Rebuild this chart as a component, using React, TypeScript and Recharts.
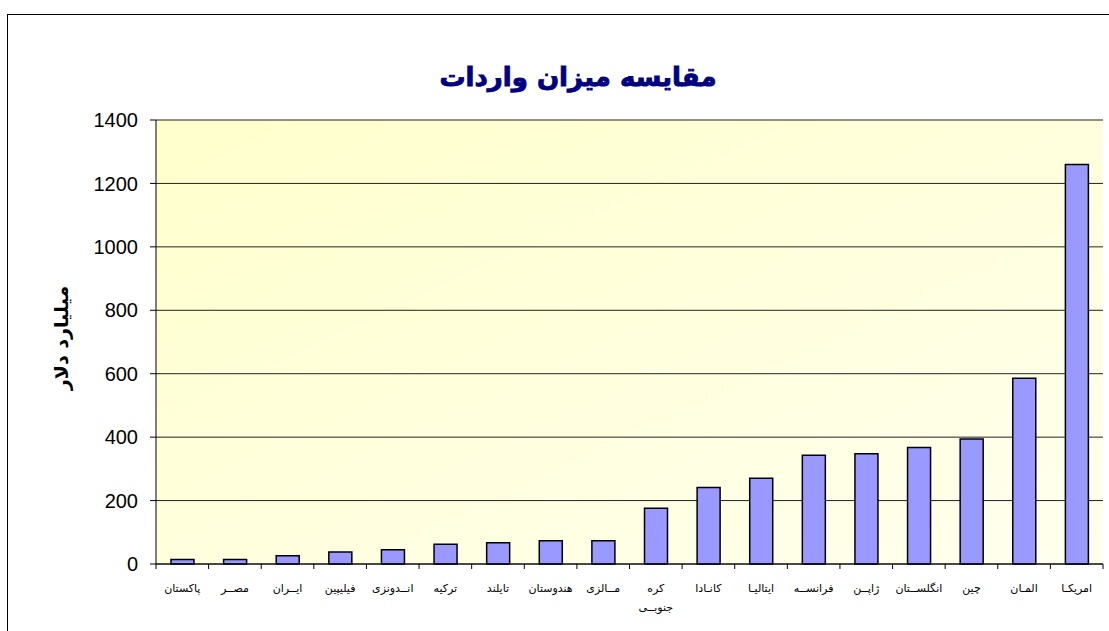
import { BarChart, Bar, XAxis, YAxis, CartesianGrid } from 'recharts'

const countries = [
  'پاکستان',
  'مصــر',
  'ایــران',
  'فیلیپین',
  'انــدونزی',
  'ترکیه',
  'تایلند',
  'هندوستان',
  'مــالزی',
  'کره\nجنوبــی',
  'کانـادا',
  'ایتالیـا',
  'فرانســه',
  'ژاپــن',
  'انگلســتان',
  'چین',
  'المـان',
  'امریکـا',
]
const imports = [14, 14, 26, 38, 45, 62, 67, 73, 73, 176, 241, 270, 343, 348, 367, 394, 586, 1260]
const yTicks = [0, 200, 400, 600, 800, 1000, 1200, 1400]

const title = 'مقایسه میزان واردات'
const yTitle = 'میلیارد دلار'

const data = countries.map((c, i) => ({ name: c, value: imports[i] }))

const W = 1109
const H = 631
const plotLeft = 156
const plotRight = 1103
const band = (plotRight - plotLeft) / countries.length

function CountryTick(props: any) {
  const { x, y, payload, index } = props
  const lines = String(payload.value).split('\n')
  return (
    <g>
      <line x1={x - band / 2} x2={x - band / 2} y1={y} y2={y + 5} stroke="#000" />
      {index === countries.length - 1 && (
        <line x1={x + band / 2} x2={x + band / 2} y1={y} y2={y + 5} stroke="#000" />
      )}
      {lines.map((l, i) => (
        <text
          key={i}
          x={x}
          y={y + 28 + i * 19}
          textAnchor="middle"
          fontSize={11}
          fontFamily="DejaVu Sans"
          fill="#000"
        >
          {l}
        </text>
      ))}
    </g>
  )
}

function YTitle() {
  return (
    <text
      x={62}
      y={338}
      transform="rotate(-90, 62, 338)"
      textAnchor="middle"
      dominantBaseline="middle"
      fontSize={19}
      fontWeight="bold"
      fontFamily="DejaVu Sans"
      fill="#000"
    >
      {yTitle}
    </text>
  )
}

export default function App() {
  return (
    <div style={{ position: 'absolute', left: 0, top: 0, width: W, height: H, overflow: 'hidden', background: '#fff' }}>
      <div
        style={{
          position: 'absolute',
          left: 7,
          top: 14,
          width: 1300,
          height: 800,
          border: '1px solid #000',
        }}
      />
      <div
        style={{
          position: 'absolute',
          left: 0,
          width: 1156,
          top: 62,
          textAlign: 'center',
          fontFamily: 'DejaVu Sans',
          fontWeight: 'bold',
          fontSize: 26,
          color: '#000080',
          WebkitTextStroke: '0.9px #000080',
          direction: 'rtl',
        }}
      >
        {title}
      </div>
      <div style={{ position: 'absolute', left: 0, top: 0 }}>
        <BarChart
          width={W}
          height={H}
          data={data}
          margin={{ top: 120, right: W - plotRight, bottom: 0, left: 50 }}
          barSize={23}
        >
          <defs>
            <linearGradient id="bg" x1="0" y1="0" x2="1" y2="1">
              <stop offset="0%" stopColor="#FFFFCC" />
              <stop offset="100%" stopColor="#FFFFEE" />
            </linearGradient>
          </defs>
          <CartesianGrid vertical={false} stroke="#222" fill="url(#bg)" />
          <XAxis
            dataKey="name"
            height={H - 564}
            interval={0}
            tickSize={0}
            tickMargin={0}
            axisLine={{ stroke: '#000' }}
            tick={<CountryTick />}
          />
          <XAxis
            xAxisId="t"
            dataKey="name"
            orientation="top"
            height={0}
            tick={false}
            tickLine={false}
            axisLine={{ stroke: '#999', strokeWidth: 2 }}
          />
          <YAxis
            width={plotLeft - 50}
            domain={[0, 1400]}
            ticks={yTicks}
            interval={0}
            tickSize={6}
            tickMargin={12}
            axisLine={{ stroke: '#000' }}
            tickLine={{ stroke: '#000' }}
            tick={{ fontSize: 20, fontFamily: 'Liberation Sans', fill: '#000' }}
            label={<YTitle />}
          />
          <YAxis
            yAxisId="r"
            orientation="right"
            width={0}
            domain={[0, 1400]}
            tick={false}
            tickLine={false}
            axisLine={{ stroke: '#999', strokeWidth: 2 }}
          />
          <Bar dataKey="value" fill="#9999FF" stroke="#000" strokeWidth={1.5} isAnimationActive={false} />
        </BarChart>
      </div>
    </div>
  )
}
